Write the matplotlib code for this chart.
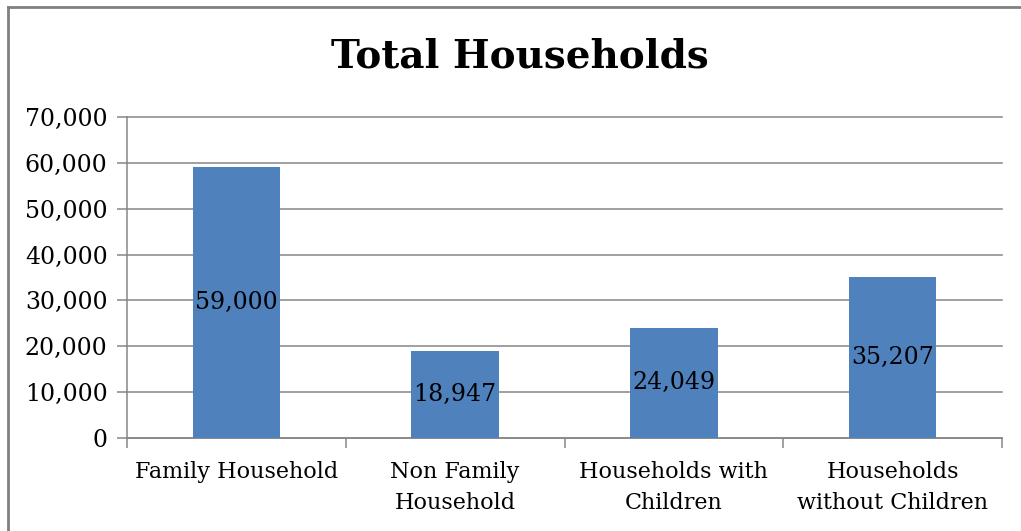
import matplotlib

matplotlib.use("Agg")
import matplotlib.pyplot as plt
from matplotlib.lines import Line2D

categories = ["Family Household", "Non Family\nHousehold",
              "Households with\nChildren", "Households\nwithout Children"]
values = [59000, 18947, 24049, 35207]
yticks = [0, 10000, 20000, 30000, 40000, 50000, 60000, 70000]

BAR = "#4F81BD"
GRID = "#868686"
FONT = "DejaVu Serif"

plt.rcParams["font.family"] = FONT

W, H = 1021, 531
fig = plt.figure(figsize=(W / 100, H / 100), dpi=100)
ax = fig.add_axes([127 / W, 1 - 438 / H, (1002 - 127) / W, (438 - 117) / H])

x = list(range(len(values)))
bars = ax.bar(x, values, width=0.4, color=BAR, zorder=3)
for b, v in zip(bars, values):
    ax.text(b.get_x() + b.get_width() / 2, v / 2, f"{v:,}",
            ha="center", va="center", fontsize=17, zorder=4)

ax.set_xlim(-0.5, len(values) - 0.5)
ax.set_ylim(0, 70000)
ax.set_yticks(yticks)
ax.set_yticklabels([f"{t:,}" for t in yticks], fontsize=17)
ax.yaxis.grid(True, color=GRID, linewidth=1.1, zorder=0)
for gl in ax.get_ygridlines():
    gl.set_clip_on(False)

# category labels between boundary ticks
ax.set_xticks([i + 0.5 for i in range(-1, len(values))])
ax.set_xticklabels([])
ax.tick_params(axis="x", length=7, width=1.1, color=GRID)
ax.tick_params(axis="y", length=7, width=1.1, color=GRID, pad=7)
for i, c in enumerate(categories):
    ax.text(i, -0.072, c, transform=ax.get_xaxis_transform(), ha="center",
            va="top", fontsize=16, linespacing=1.5)

for s in ("top", "right"):
    ax.spines[s].set_visible(False)
for s in ("left", "bottom"):
    ax.spines[s].set_color(GRID)
    ax.spines[s].set_linewidth(1.1)

fig.text(520 / W, 1 - 57 / H, "Total Households", ha="center", va="center",
         fontsize=28, fontweight="bold")

# outer chart frame (top and left edges visible)
fig.add_artist(Line2D([7.5 / W, 1], [1 - 6.5 / H, 1 - 6.5 / H],
                      transform=fig.transFigure, color="#808080", linewidth=2))
fig.add_artist(Line2D([7.5 / W, 7.5 / W], [0, 1 - 6.5 / H],
                      transform=fig.transFigure, color="#808080", linewidth=2))

fig.savefig("out.png", dpi=100)
